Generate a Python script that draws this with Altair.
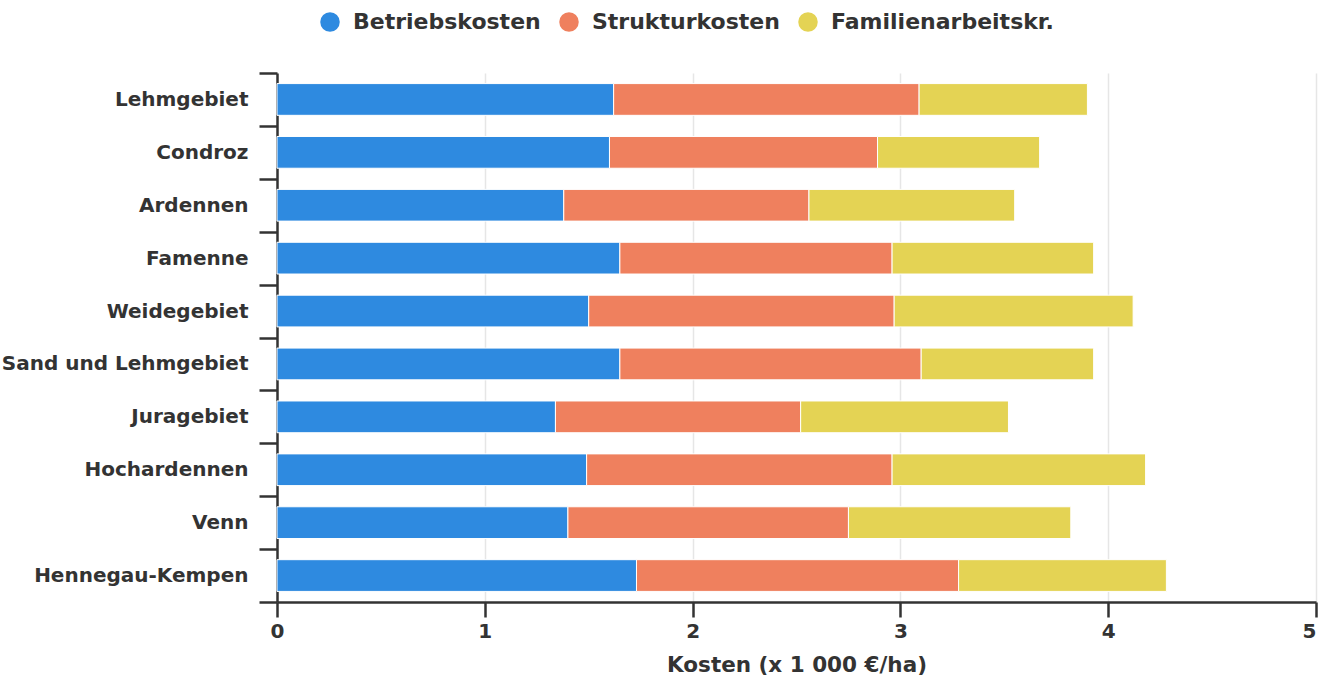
import altair as alt
import pandas as pd

# Regions from top to bottom
regions = [
    "Lehmgebiet",
    "Condroz",
    "Ardennen",
    "Famenne",
    "Weidegebiet",
    "Sand und Lehmgebiet",
    "Juragebiet",
    "Hochardennen",
    "Venn",
    "Hennegau-Kempen",
]

# Cost components in 1 000 €/ha
betriebskosten = [1.62, 1.60, 1.38, 1.65, 1.50, 1.65, 1.34, 1.49, 1.40, 1.73]
strukturkosten = [1.47, 1.29, 1.18, 1.31, 1.47, 1.45, 1.18, 1.47, 1.35, 1.55]
familienarbeitskr = [0.81, 0.78, 0.99, 0.97, 1.15, 0.83, 1.00, 1.22, 1.07, 1.00]

series = ["Betriebskosten", "Strukturkosten", "Familienarbeitskr."]
series_values = [betriebskosten, strukturkosten, familienarbeitskr]
colors = ["#2e8ae0", "#ef805e", "#e4d354"]
x_ticks = [0, 1, 2, 3, 4, 5]

rows = []
for k, (name, vals) in enumerate(zip(series, series_values)):
    for region, v in zip(regions, vals):
        rows.append({"Region": region, "Reihe": name, "Kosten": v, "idx": k})
df = pd.DataFrame(rows)

FONT = "DejaVu Sans"
TEXT = "#333333"

chart = (
    alt.Chart(df)
    .mark_bar(stroke="white", strokeWidth=1, height=alt.RelativeBandSize(0.6))
    .encode(
        y=alt.Y(
            "Region:N",
            sort=regions,
            title=None,
            scale=alt.Scale(paddingInner=0, paddingOuter=0),
            axis=alt.Axis(
                tickBand="extent",
                domainColor=TEXT,
                domainWidth=2.5,
                tickColor=TEXT,
                tickWidth=2.5,
                tickSize=18,
                labelPadding=11,
                labelLimit=0,
                labelFont=FONT,
                labelFontWeight="bold",
                labelFontSize=20,
                labelColor=TEXT,
                grid=False,
            ),
        ),
        x=alt.X(
            "Kosten:Q",
            stack="zero",
            scale=alt.Scale(domain=[0, 5], nice=False),
            title="Kosten (x 1 000 €/ha)",
            axis=alt.Axis(
                values=x_ticks,
                format="d",
                labelFlush=False,
                labelAlign=alt.ExprRef(expr="datum.value == 5 ? 'right' : 'center'"),
                domainColor=TEXT,
                domainWidth=2.5,
                tickColor=TEXT,
                tickWidth=2.5,
                tickSize=15,
                labelPadding=4,
                labelFont=FONT,
                labelFontWeight="bold",
                labelFontSize=20,
                labelColor=TEXT,
                titleFont=FONT,
                titleFontWeight="bold",
                titleFontSize=21.5,
                titleColor=TEXT,
                titlePadding=13,
                grid=True,
                gridColor="#e6e6e6",
                gridWidth=1.5,
            ),
        ),
        color=alt.Color(
            "Reihe:N",
            scale=alt.Scale(domain=series, range=colors),
            legend=alt.Legend(
                title=None,
                orient="none",
                legendX=42,
                legendY=-62,
                direction="horizontal",
                symbolType="circle",
                symbolSize=380,
                symbolStrokeWidth=0,
                symbolOpacity=1,
                labelFont=FONT,
                labelFontWeight="bold",
                labelFontSize=22,
                labelColor=TEXT,
                labelLimit=0,
                labelOffset=12,
                columnPadding=17,
            ),
        ),
        order=alt.Order("idx:Q"),
    )
    .properties(
        width=1039,
        height=529,
        autosize=alt.AutoSizeParams(type="none"),
        padding={"left": 277, "top": 73, "right": 11, "bottom": 75},
    )
    .configure_view(stroke=None)
)

chart.save("out.html", embed_options={"renderer": "svg", "actions": False})
